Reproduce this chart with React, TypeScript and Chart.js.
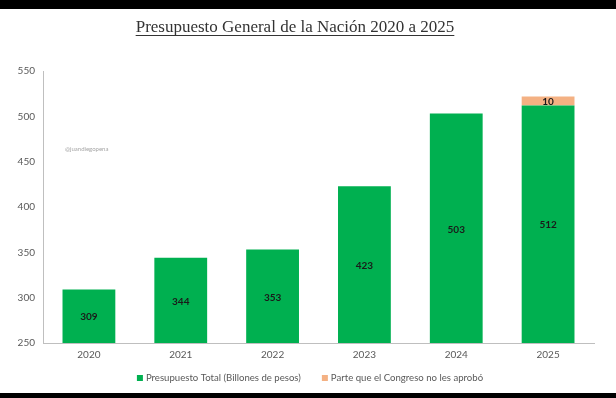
import React, { useEffect, useRef } from "react";
import { Chart, registerables } from "chart.js";

Chart.register(...registerables);

const titleText = "Presupuesto General de la Nación 2020 a 2025";
const watermark = "@juandiegopena";
const years = ["2020", "2021", "2022", "2023", "2024", "2025"];
const totalBudget = [309, 344, 353, 423, 503, 512];
const notApproved = [null, null, null, null, null, 10];
const seriesNames = ["Presupuesto Total (Billones de pesos)", "Parte que el Congreso no les aprobó"];
const yMin = 250;
const yMax = 550;
const yStep = 50;

const GREEN = "#00B050";
const ORANGE = "#F4B183";

const framePlugin = {
  id: "frame",
  beforeDraw(chart: any) {
    const { ctx, width, height } = chart;
    ctx.save();
    ctx.fillStyle = "#ffffff";
    ctx.fillRect(0, 0, width, height);
    ctx.fillStyle = "#000000";
    ctx.fillRect(0, 0, width, 9);
    ctx.fillRect(0, height - 5, width, 5);
    ctx.restore();
  },
  afterDraw(chart: any) {
    const { ctx, chartArea } = chart;
    ctx.save();
    // title
    ctx.font = "17px 'Liberation Serif', serif";
    ctx.fillStyle = "#333333";
    ctx.textAlign = "center";
    ctx.textBaseline = "alphabetic";
    const cx = 295;
    const by = 32;
    ctx.fillText(titleText, cx, by);
    const w = ctx.measureText(titleText).width;
    ctx.strokeStyle = "#333333";
    ctx.lineWidth = 1;
    ctx.beginPath();
    ctx.moveTo(cx - w / 2, by + 3.5);
    ctx.lineTo(cx + w / 2, by + 3.5);
    ctx.stroke();
    // watermark
    ctx.font = "6px Lato, sans-serif";
    ctx.fillStyle = "#a6a6a6";
    ctx.textAlign = "left";
    ctx.textBaseline = "middle";
    ctx.fillText(watermark, chartArea.left + 22, 149);
    // data labels
    ctx.font = "bold 10px Lato, sans-serif";
    ctx.fillStyle = "#1a1a1a";
    ctx.textAlign = "center";
    chart.data.datasets.forEach((ds: any, di: number) => {
      const meta = chart.getDatasetMeta(di);
      meta.data.forEach((el: any, i: number) => {
        const v = ds.data[i];
        if (v == null) return;
        const top = Math.max(el.y, chartArea.top);
        const bottom = Math.min(el.base, chartArea.bottom);
        ctx.fillText(String(v), el.x, (top + bottom) / 2 + 1);
      });
    });
    // legend
    ctx.font = "9.6px Lato, sans-serif";
    ctx.textAlign = "left";
    ctx.textBaseline = "middle";
    const box = 6;
    const gap = 3;
    const spacing = 21;
    const items = chart.data.datasets.map((ds: any) => ({
      text: ds.label,
      color: ds.backgroundColor,
      tw: ctx.measureText(ds.label).width,
    }));
    const total =
      items.reduce((a: number, it: any) => a + box + gap + it.tw, 0) + spacing * (items.length - 1);
    let x = 310 - total / 2;
    const ly = 378;
    items.forEach((it: any) => {
      ctx.fillStyle = it.color;
      ctx.fillRect(x, ly - box / 2, box, box);
      x += box + gap;
      ctx.fillStyle = "#595959";
      ctx.fillText(it.text, x, ly);
      x += it.tw + spacing;
    });
    ctx.restore();
  },
};

export default function App() {
  const ref = useRef<HTMLCanvasElement>(null);
  useEffect(() => {
    const chart = new Chart(ref.current!, {
      type: "bar",
      data: {
        labels: years,
        datasets: [
          {
            label: seriesNames[0],
            data: totalBudget,
            backgroundColor: GREEN,
            categoryPercentage: 0.575,
            barPercentage: 1,
          },
          {
            label: seriesNames[1],
            data: notApproved as any,
            backgroundColor: ORANGE,
            categoryPercentage: 0.575,
            barPercentage: 1,
          },
        ],
      },
      options: {
        responsive: false,
        animation: false,
        devicePixelRatio: 1,
        layout: { padding: { top: 71, left: 8, right: 22, bottom: 33 } },
        scales: {
          x: {
            stacked: true,
            grid: { display: false, drawTicks: false },
            border: { color: "#bfbfbf", width: 1 },
            ticks: { color: "#595959", font: { family: "Lato", size: 10 }, padding: 6 },
            afterFit: (s: any) => {
              s.height = 22;
            },
          },
          y: {
            stacked: true,
            min: yMin,
            max: yMax,
            grid: { display: false, drawTicks: false },
            border: { color: "#bfbfbf", width: 1 },
            ticks: { stepSize: yStep, color: "#595959", font: { family: "Lato", size: 10 }, padding: 8 },
            afterFit: (s: any) => {
              s.width = 35;
            },
          },
        },
        plugins: {
          title: { display: false },
          tooltip: { enabled: false },
          legend: { display: false },
        },
      },
      plugins: [framePlugin],
    });
    return () => chart.destroy();
  }, []);
  return (
    <div style={{ position: "fixed", left: 0, top: 0, width: 616, height: 398 }}>
      <canvas ref={ref} width={616} height={398} />
    </div>
  );
}
